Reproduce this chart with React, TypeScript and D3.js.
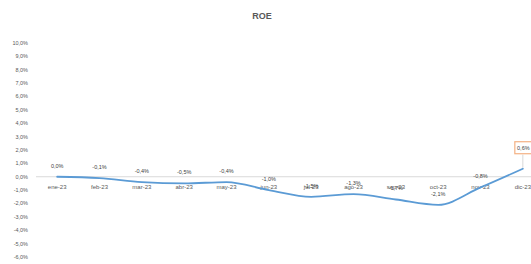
import React from 'react';
import * as d3 from 'd3';

const WIDTH = 531;
const HEIGHT = 264;

const MONTHS = ['ene-23', 'feb-23', 'mar-23', 'abr-23', 'may-23', 'jun-23', 'jul-23', 'ago-23', 'sep-23', 'oct-23', 'nov-23', 'dic-23'];
const ROE = [0.0, -0.1, -0.4, -0.5, -0.4, -1.0, -1.5, -1.3, -1.7, -2.1, -0.8, 0.6];
const Y_TICKS = [10, 9, 8, 7, 6, 5, 4, 3, 2, 1, 0, -1, -2, -3, -4, -5, -6];

const TEXT = '#595959';
const FONT = '"Liberation Sans", Arial, sans-serif';

const locale = d3.formatLocale({ decimal: ',', thousands: '.', grouping: [3], currency: ['', '€'], minus: '-' });
const pct = (v: number) => locale.format('.1f')(v) + '%';

const App = () => {
  // plot area runs past the right edge, the original picture was cropped
  const x = d3.scaleBand<string>().domain(MONTHS).range([36, 544]).padding(0);
  const y = d3.scaleLinear().domain([-6, 10]).range([257, 43]);
  const cx = (m: string) => (x(m) ?? 0) + x.bandwidth() / 2;

  const points: [number, number][] = MONTHS.map((m, i) => [cx(m), y(ROE[i])]);
  const path = d3.line().curve(d3.curveMonotoneX)(points) ?? '';
  const last = MONTHS.length - 1;

  return (
    <svg
      width={WIDTH}
      height={HEIGHT}
      style={{ position: 'absolute', left: 0, top: 0, background: '#fff', fontFamily: FONT }}
    >
      <text x={262} y={19} textAnchor="middle" fontSize={9} fontWeight="bold" fill={TEXT}>
        ROE
      </text>

      {/* y tick labels */}
      {Y_TICKS.map((t) => (
        <text key={t} x={28} y={y(t)} dy="0.35em" textAnchor="end" fontSize={5.5} fill={TEXT}>
          {pct(t)}
        </text>
      ))}

      {/* zero axis */}
      <line x1={36} x2={WIDTH} y1={y(0)} y2={y(0)} stroke="#d9d9d9" strokeWidth={1} />

      {/* category labels sit just under the zero line */}
      {MONTHS.map((m) => (
        <text key={m} x={cx(m)} y={y(0) + 10} dy="0.35em" textAnchor="middle" fontSize={6} fill={TEXT}>
          {m}
        </text>
      ))}

      <path d={path} fill="none" stroke="#5b9bd5" strokeWidth={1.8} strokeLinecap="round" />

      {/* data labels */}
      {MONTHS.map((m, i) =>
        i === last ? null : (
          <text key={m} x={cx(m)} y={y(ROE[i]) - 11} dy="0.35em" textAnchor="middle" fontSize={5.5} fill="#404040">
            {pct(ROE[i])}
          </text>
        ),
      )}

      {/* highlighted last label */}
      <g>
        <line x1={cx(MONTHS[last])} x2={cx(MONTHS[last])} y1={y(ROE[last]) - 1} y2={y(ROE[last]) - 14} stroke="#bfbfbf" strokeWidth={0.6} />
        <rect
          x={cx(MONTHS[last]) - 8}
          y={y(ROE[last]) - 27}
          width={17}
          height={12}
          fill="#fff"
          stroke="#f4b183"
          strokeWidth={1.2}
        />
        <text x={cx(MONTHS[last]) + 0.5} y={y(ROE[last]) - 21} dy="0.35em" textAnchor="middle" fontSize={5.5} fill="#404040">
          {pct(ROE[last])}
        </text>
      </g>
    </svg>
  );
};

export default App;
